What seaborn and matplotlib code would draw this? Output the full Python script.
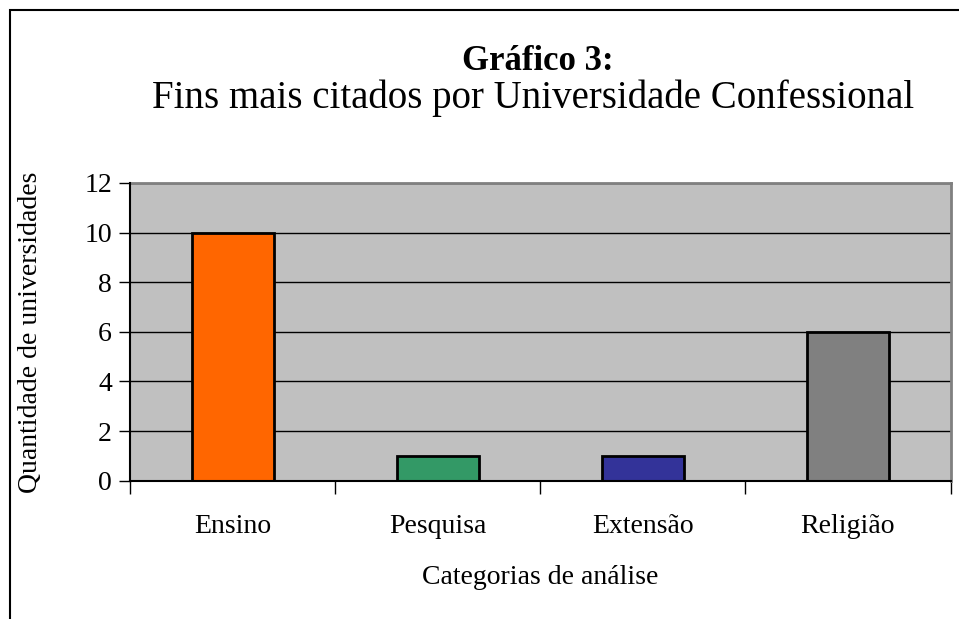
import matplotlib
matplotlib.use("Agg")
import matplotlib.pyplot as plt
from matplotlib.patches import Rectangle
from matplotlib.ticker import FixedLocator
import seaborn as sns
import pandas as pd

categories = ["Ensino", "Pesquisa", "Extensão", "Religião"]
values = [10, 1, 1, 6]
colors = ["#FF6600", "#339966", "#333399", "#808080"]
yticks = [0, 2, 4, 6, 8, 10, 12]

title_bold = "Gráfico 3:"
subtitle = "Fins mais citados por Universidade Confessional"
xlabel = "Categorias de análise"
ylabel = "Quantidade de universidades"

sns.set_theme(style="white")
plt.rcParams["font.family"] = ["Liberation Serif", "DejaVu Serif"]
plt.rcParams["text.color"] = "black"
plt.rcParams["xtick.color"] = "black"
plt.rcParams["ytick.color"] = "black"
plt.rcParams["xtick.labelcolor"] = "black"
plt.rcParams["ytick.labelcolor"] = "black"

W, H = 959, 619
fig = plt.figure(figsize=(W / 100, H / 100), dpi=100)
fig.patch.set_facecolor("white")

# figure frame (left and top edges visible)
fig.add_artist(Rectangle((9.5 / W, -0.5), 2, 0.5 + 1 - 9.5 / H, transform=fig.transFigure,
                         fill=False, edgecolor="black", linewidth=1.5))

l, r, t, b = 130 / W, 950.5 / W, 183 / H, 480.7 / H
ax = fig.add_axes([l, 1 - b, r - l, b - t])
ax.set_facecolor("#C0C0C0")

df = pd.DataFrame({"cat": categories, "val": values})
sns.barplot(data=df, x="cat", y="val", hue="cat", palette=colors, width=0.4,
            saturation=1, edgecolor="black", linewidth=2, legend=False, ax=ax, zorder=3)

ax.set_ylim(0, 12)
ax.set_xlim(-0.5, 3.5)
ax.set_yticks(yticks)
ax.set_yticklabels([str(v) for v in yticks], fontsize=20)
for y in yticks[1:]:
    ax.axhline(y, color="black", linewidth=1, zorder=1)

ax.set_xticks(range(len(categories)))
ax.set_xticklabels(categories, fontsize=20)
ax.tick_params(axis="x", which="major", length=0, pad=24)
ax.xaxis.set_minor_locator(FixedLocator([-0.5, 0.5, 1.5, 2.5, 3.5]))
ax.tick_params(axis="x", which="minor", bottom=True, length=9, width=1, color="black", direction="out")
ax.tick_params(axis="y", left=True, length=8, width=1, color="black", direction="out", pad=5)

for s in ["top", "right"]:
    ax.spines[s].set_color("#808080")
    ax.spines[s].set_linewidth(2)
for s in ["left", "bottom"]:
    ax.spines[s].set_color("black")
    ax.spines[s].set_linewidth(1.5)
    ax.spines[s].set_zorder(4)

ax.set_xlabel("")
ax.set_ylabel("")
fig.text(31 / W, 1 - 332 / H, ylabel, rotation=90, ha="center", va="center", fontsize=20)
fig.text(540 / W, 1 - 578 / H, xlabel, ha="center", va="center", fontsize=20)

fig.text(538 / W, 1 - 62 / H, title_bold, ha="center", va="center", fontsize=25, fontweight="bold")
fig.text(533 / W, 1 - 98 / H, subtitle, ha="center", va="center", fontsize=28)

fig.savefig("out.png", dpi=100)
